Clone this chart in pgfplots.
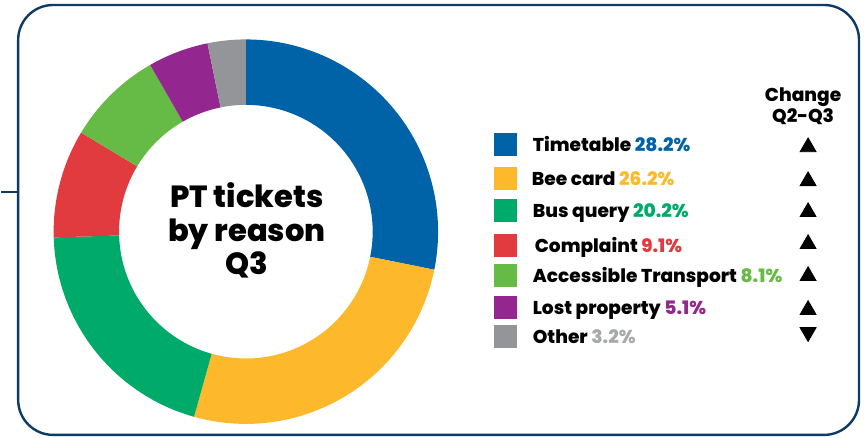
\documentclass[border=0pt]{standalone}
\usepackage{pgfplots}
\pgfplotsset{compat=1.18}
\usepackage{pgfplotstable}
\usepackage{fontspec}
\setmainfont{Poppins}[BoldFont={Poppins ExtraBold}]

\definecolor{navy}{HTML}{0E3A64}
\definecolor{cTime}{HTML}{0063A7}
\definecolor{cBee}{HTML}{FDB92B}
\definecolor{cBus}{HTML}{00AA6A}
\definecolor{cComp}{HTML}{E13B3F}
\definecolor{cAcc}{HTML}{66BB46}
\definecolor{cLost}{HTML}{93278F}
\definecolor{cOther}{HTML}{949599}
\definecolor{tOther}{HTML}{A7A9AC}

\pgfplotstableread{
name value color
Timetable 28.2 cTime
Bee 26.2 cBee
Bus 20.2 cBus
Complaint 9.1 cComp
Accessible 8.1 cAcc
Lost 5.1 cLost
Other 3.2 cOther
}\pieData

\begin{document}
\begin{tikzpicture}
\begin{axis}[scale only axis, width=432.5pt, height=219pt,
  xmin=0, xmax=865, ymin=0, ymax=438, hide axis, clip=false]
\path (axis cs:0,0) rectangle (axis cs:865,438);
% frame
\draw[navy, line width=1.2pt, rounded corners=17.5pt] (axis cs:17,2.5) rectangle (axis cs:859,433);
\draw[navy, line width=1.2pt] (axis cs:0,245.5) -- (axis cs:17,245.5);

% donut
\def\cx{245}\def\cy{206}\def\Ro{192.5}\def\Ri{127}
\pgfmathsetmacro\total{0}
\pgfplotsforeachungrouped \i in {0,...,6}{%
  \pgfplotstablegetelem{\i}{value}\of\pieData
  \pgfmathsetmacro\total{\total+\pgfplotsretval}%
}
\pgfmathsetmacro\cum{0}
\pgfplotsforeachungrouped \i in {0,...,6}{%
  \pgfplotstablegetelem{\i}{value}\of\pieData \let\val\pgfplotsretval
  \pgfplotstablegetelem{\i}{color}\of\pieData \let\col\pgfplotsretval
  \pgfmathsetmacro\aS{90-360*(\cum/\total)}%
  \pgfmathsetmacro\aE{90-360*((\cum+\val)/\total)}%
  \pgfmathsetmacro\xa{\cx+\Ro*cos(\aS)}%
  \pgfmathsetmacro\ya{\cy+\Ro*sin(\aS)}%
  \pgfmathsetmacro\xb{\cx+\Ri*cos(\aE)}%
  \pgfmathsetmacro\yb{\cy+\Ri*sin(\aE)}%
  \pgfmathsetmacro\rO{\Ro/2}%
  \pgfmathsetmacro\rI{\Ri/2}%
  \edef\temp{\noexpand\fill[\col] (axis cs:\xa,\ya) arc[start angle=\aS, end angle=\aE, radius=\rO pt] -- (axis cs:\xb,\yb) arc[start angle=\aE, end angle=\aS, radius=\rI pt] -- cycle;}%
  \temp
  \pgfmathsetmacro\cum{\cum+\val}%
}

% centre title
\node[anchor=base, font=\bfseries\fontsize{15.3}{18}\selectfont] at (axis cs:246,230) {PT tickets};
\node[anchor=base, font=\bfseries\fontsize{15.3}{18}\selectfont] at (axis cs:246,196) {by reason};
\node[anchor=base, font=\bfseries\fontsize{15.3}{18}\selectfont] at (axis cs:246,163) {Q3};

% legend squares
\addplot[only marks, mark=square*, mark size=5.5pt, cTime, mark options={draw=none}] coordinates {(505,293)};
\addplot[only marks, mark=square*, mark size=5.5pt, cBee, mark options={draw=none}] coordinates {(505,259)};
\addplot[only marks, mark=square*, mark size=5.5pt, cBus, mark options={draw=none}] coordinates {(505,227)};
\addplot[only marks, mark=square*, mark size=5.5pt, cComp, mark options={draw=none}] coordinates {(505,192)};
\addplot[only marks, mark=square*, mark size=5.5pt, cAcc, mark options={draw=none}] coordinates {(505,162)};
\addplot[only marks, mark=square*, mark size=5.5pt, cLost, mark options={draw=none}] coordinates {(505,130)};
\addplot[only marks, mark=square*, mark size=5.5pt, cOther, mark options={draw=none}] coordinates {(505,101)};

% legend labels
\tikzset{leg/.style={anchor=base west, inner sep=0pt, font=\bfseries\fontsize{9.3}{11}\selectfont}}
\node[leg] at (axis cs:532,286.5) {Timetable \textcolor{cTime}{28.2\%}};
\node[leg] at (axis cs:531,252.5) {Bee card \textcolor{cBee}{26.2\%}};
\node[leg] at (axis cs:532,220.5) {Bus query \textcolor{cBus}{20.2\%}};
\node[leg] at (axis cs:534,185.5) {Complaint \textcolor{cComp}{9.1\%}};
\node[leg] at (axis cs:532,155.5) {Accessible Transport \textcolor{cAcc}{8.1\%}};
\node[leg] at (axis cs:532,123.5) {Lost property \textcolor{cLost}{5.1\%}};
\node[leg] at (axis cs:532,94.5) {Other \textcolor{tOther}{3.2\%}};

% change header and arrows
\node[align=center, font=\bfseries\fontsize{9.3}{10.5}\selectfont] at (axis cs:803,331.5) {Change\\Q2-Q3};
\addplot[only marks, mark=triangle*, mark size=4.6pt, black] coordinates {(808,290.7) (808,256.7) (808,225.7) (808,193.7) (808,161.7) (808,127.7)};
\addplot[only marks, mark=triangle*, mark size=4.6pt, black, mark options={rotate=180}] coordinates {(808,105.3)};
\end{axis}
\end{tikzpicture}
\end{document}
